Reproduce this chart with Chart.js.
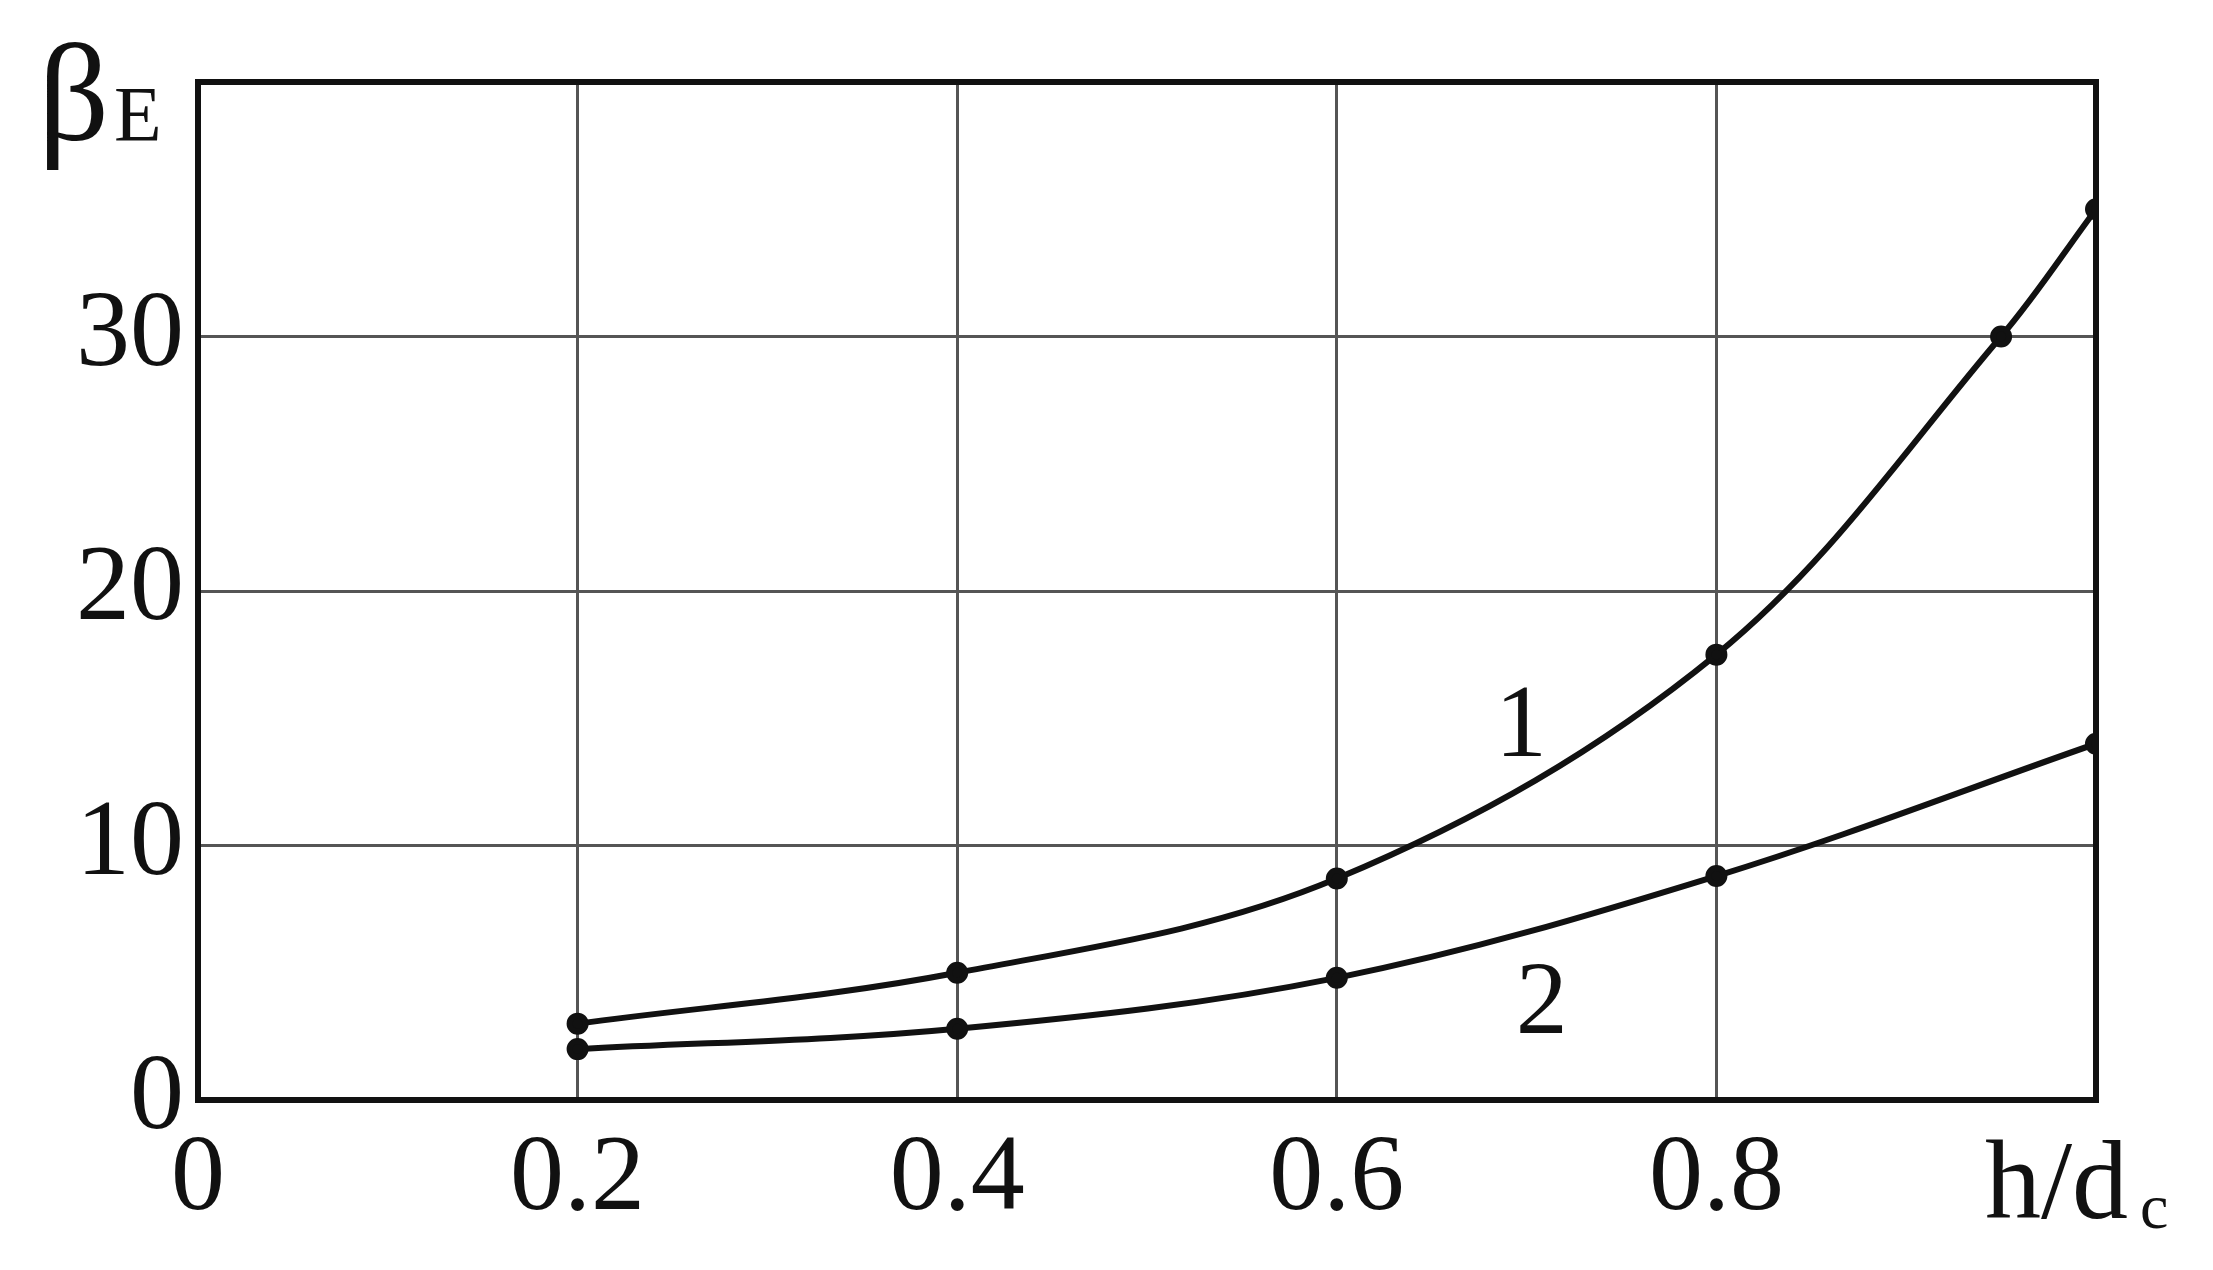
<!DOCTYPE html>
<html><head><meta charset="utf-8">
<script src="https://cdn.jsdelivr.net/npm/chart.js@4"></script>
<style>html,body{margin:0;padding:0;background:#fff}#w{width:2213px;height:1270px}</style>
</head><body><div id="w"><canvas id="c"></canvas></div>
<script>
const curve1X = [0.2, 0.4, 0.6, 0.8, 0.95, 1.0];
const curve1Y = [3, 5, 8.7, 17.5, 30, 35];
const curve2X = [0.2, 0.4, 0.6, 0.8, 1.0];
const curve2Y = [2, 2.8, 4.8, 8.8, 14];
const xTicks = [0, 0.2, 0.4, 0.6, 0.8];
const yTicks = [0, 10, 20, 30];
const curveLabels = [{t:'1', x:0.697, y:14.6}, {t:'2', x:0.708, y:3.7}];
const FONT = '"Liberation Serif", "DejaVu Serif", serif';

const pts = (xs, ys) => xs.map((x, i) => ({x, y: ys[i]}));
const ds = (xs, ys) => ({data: pts(xs, ys), borderColor:'#111', backgroundColor:'#111', borderWidth:6,
  pointRadius:8, pointBackgroundColor:'#111', tension:0.35, fill:false});

const extra = {
  id:'extra',
  afterDraw(ch){
    const {ctx, scales:{x, y}, chartArea:a} = ch;
    ctx.save();
    ctx.strokeStyle='#111'; ctx.lineWidth=6;
    ctx.strokeRect(a.left, a.top, a.right-a.left, a.bottom-a.top);
    ctx.fillStyle='#111';
    ctx.font = '104px ' + FONT; ctx.textAlign='center'; ctx.textBaseline='middle';
    curveLabels.forEach(l => ctx.fillText(l.t, x.getPixelForValue(l.x), y.getPixelForValue(l.y)));
    ctx.textAlign='left'; ctx.textBaseline='alphabetic';
    ctx.font = '140px ' + FONT;
    ctx.fillText('β', 38, 140);
    ctx.font = '78px ' + FONT;
    ctx.fillText('E', 114, 140);
    ctx.font = '112px ' + FONT;
    ctx.fillText('h/d', 1985, 1218);
    ctx.font = '64px ' + FONT;
    ctx.fillText('c', 2140, 1228);
    ctx.restore();
  }
};

new Chart(document.getElementById('c'), {
  type:'line',
  data:{datasets:[ds(curve1X, curve1Y), ds(curve2X, curve2Y)]},
  options:{
    responsive:true, maintainAspectRatio:false, animation:false,
    layout:{padding:{top:82, right:117, left:0, bottom:0}},
    plugins:{legend:{display:false}, tooltip:{enabled:false}},
    scales:{
      x:{type:'linear', min:0, max:1,
        afterBuildTicks(s){ s.ticks = xTicks.map(v => ({value:v})); },
        afterFit(s){ s.height = 170; },
        ticks:{color:'#111', font:{family:FONT, size:108}, padding:16, maxRotation:0, autoSkip:false,
          callback:v => String(v)},
        grid:{color:'#555', lineWidth:3, drawTicks:false}, border:{display:false}},
      y:{type:'linear', min:0, max:40,
        afterBuildTicks(s){ s.ticks = yTicks.map(v => ({value:v})); },
        afterFit(s){ s.width = 198; },
        ticks:{color:'#111', font:{family:FONT, size:108}, padding:14, callback:v => String(v)},
        grid:{color:'#555', lineWidth:3, drawTicks:false}, border:{display:false}}
    }
  },
  plugins:[extra]
});
</script></body></html>
